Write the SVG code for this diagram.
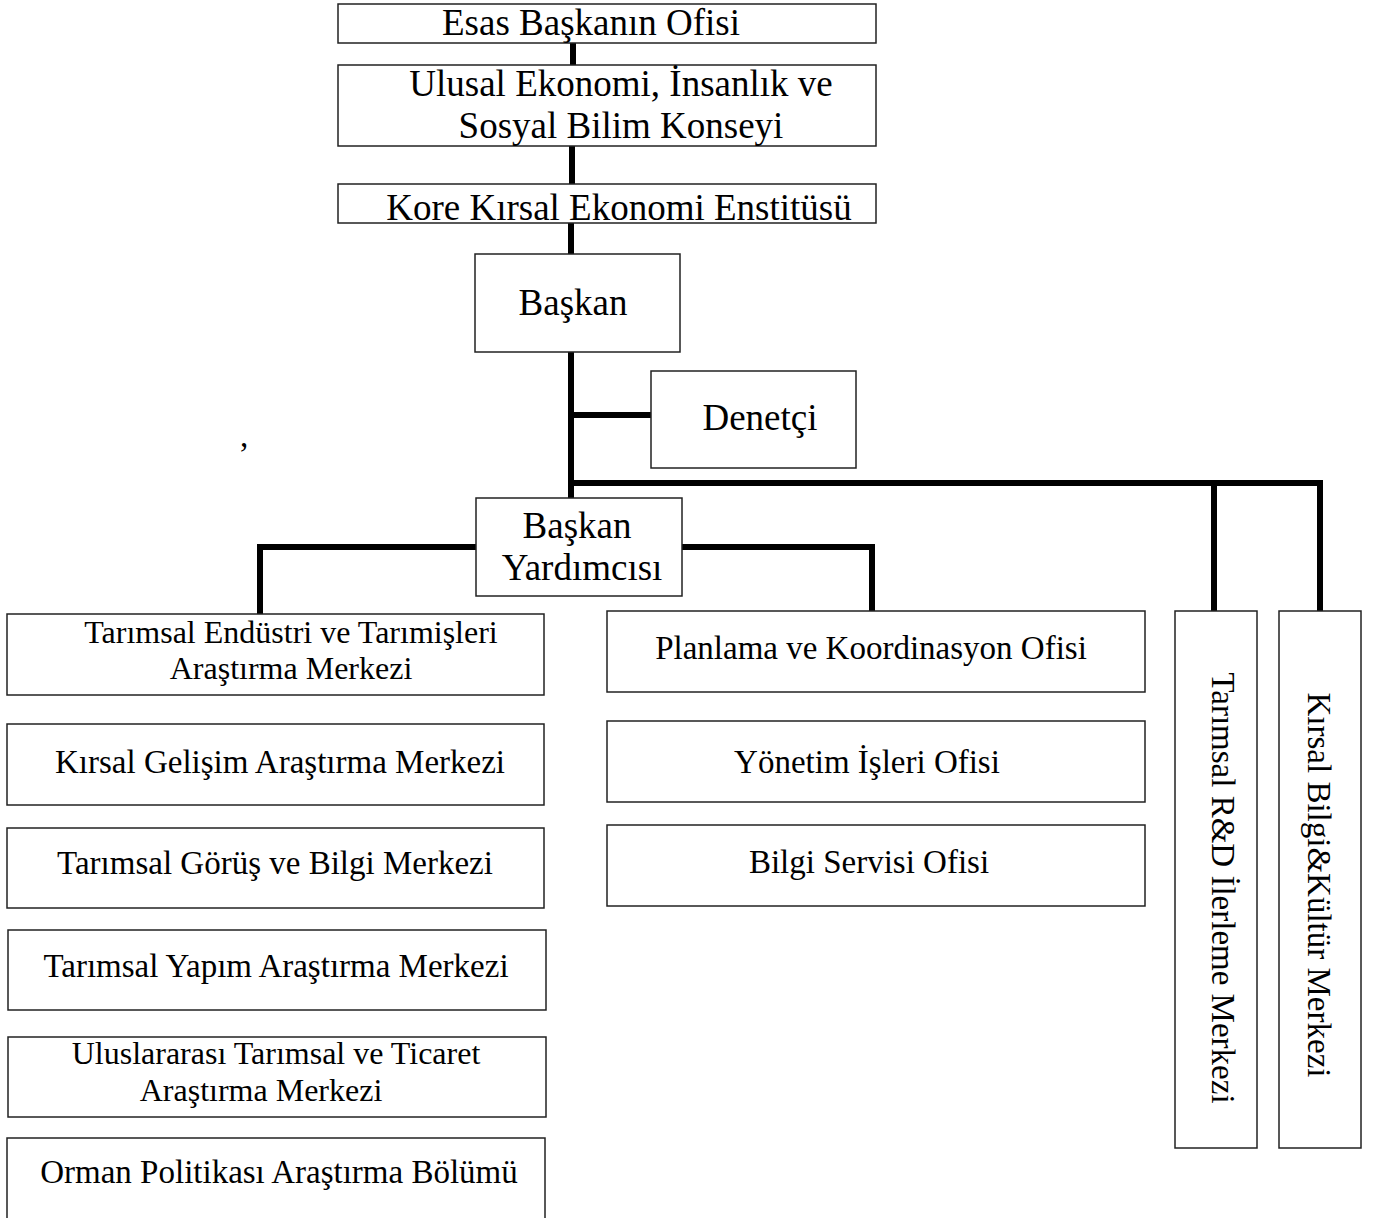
<svg xmlns="http://www.w3.org/2000/svg" width="1375" height="1218" viewBox="0 0 1375 1218">
<style>
.box{fill:#fff;stroke:#222;stroke-width:1.5}
.t{font-family:"Liberation Serif","Times New Roman",serif;fill:#000;text-anchor:middle}
.big{font-size:37px}
.sm{font-size:33px}
.tw{font-size:32px}
.conn{fill:none;stroke:#000;stroke-width:6}
</style>
<rect width="1375" height="1218" fill="#fff"/>
<g id="connectors">
<path class="conn" d="M573 43V65M572 146V184M571 223V254M571 352V498"/>
<path class="conn" d="M571 415H651"/>
<path class="conn" d="M571 483H1320V611M1214 483V611"/>
<path class="conn" d="M476 547H260V614M682 547H872V611"/>
</g>
<g id="n-esas"><rect class="box" x="338" y="4" width="538" height="39"/><text class="t big" x="591" y="35">Esas Başkanın Ofisi</text></g>
<g id="n-ulusal"><rect class="box" x="338" y="65" width="538" height="81"/><text class="t big" x="621" y="96">Ulusal Ekonomi, İnsanlık ve</text><text class="t big" x="621" y="138">Sosyal Bilim Konseyi</text></g>
<g id="n-kore"><rect class="box" x="338" y="184" width="538" height="39"/><text class="t big" x="619" y="220">Kore Kırsal Ekonomi Enstitüsü</text></g>
<g id="n-baskan"><rect class="box" x="475" y="254" width="205" height="98"/><text class="t big" x="573" y="315">Başkan</text></g>
<g id="n-denetci"><rect class="box" x="651" y="371" width="205" height="97"/><text class="t big" x="760" y="430">Denetçi</text></g>
<g id="n-yardimci"><rect class="box" x="476" y="498" width="206" height="98"/><text class="t big" x="577" y="538">Başkan</text><text class="t big" x="582" y="580">Yardımcısı</text></g>
<text class="t sm" x="244" y="447">,</text>
<g id="n-l1"><rect class="box" x="7" y="614" width="537" height="81"/><text class="t tw" x="291" y="643">Tarımsal Endüstri ve Tarımişleri</text><text class="t tw" x="291" y="679">Araştırma Merkezi</text></g>
<g id="n-l2"><rect class="box" x="7" y="724" width="537" height="81"/><text class="t sm" x="280" y="773">Kırsal Gelişim Araştırma Merkezi</text></g>
<g id="n-l3"><rect class="box" x="7" y="828" width="537" height="80"/><text class="t sm" x="275" y="874">Tarımsal Görüş ve Bilgi Merkezi</text></g>
<g id="n-l4"><rect class="box" x="8" y="930" width="538" height="80"/><text class="t sm" x="276" y="977">Tarımsal Yapım Araştırma Merkezi</text></g>
<g id="n-l5"><rect class="box" x="8" y="1037" width="538" height="80"/><text class="t tw" x="276" y="1064">Uluslararası Tarımsal ve Ticaret</text><text class="t tw" x="261" y="1101">Araştırma Merkezi</text></g>
<g id="n-l6"><rect class="box" x="7" y="1138" width="538" height="100"/><text class="t sm" x="279" y="1183">Orman Politikası Araştırma Bölümü</text></g>
<g id="n-m1"><rect class="box" x="607" y="611" width="538" height="81"/><text class="t sm" x="871" y="659">Planlama ve Koordinasyon Ofisi</text></g>
<g id="n-m2"><rect class="box" x="607" y="721" width="538" height="81"/><text class="t sm" x="867" y="773">Yönetim İşleri Ofisi</text></g>
<g id="n-m3"><rect class="box" x="607" y="825" width="538" height="81"/><text class="t sm" x="869" y="873">Bilgi Servisi Ofisi</text></g>
<g id="n-v1"><rect class="box" x="1175" y="611" width="82" height="537"/><text class="t sm" transform="translate(1212 888) rotate(90)">Tarımsal R&amp;D İlerleme Merkezi</text></g>
<g id="n-v2"><rect class="box" x="1279" y="611" width="82" height="537"/><text class="t sm" transform="translate(1308 885) rotate(90)">Kırsal Bilgi&amp;Kültür Merkezi</text></g>
</svg>
